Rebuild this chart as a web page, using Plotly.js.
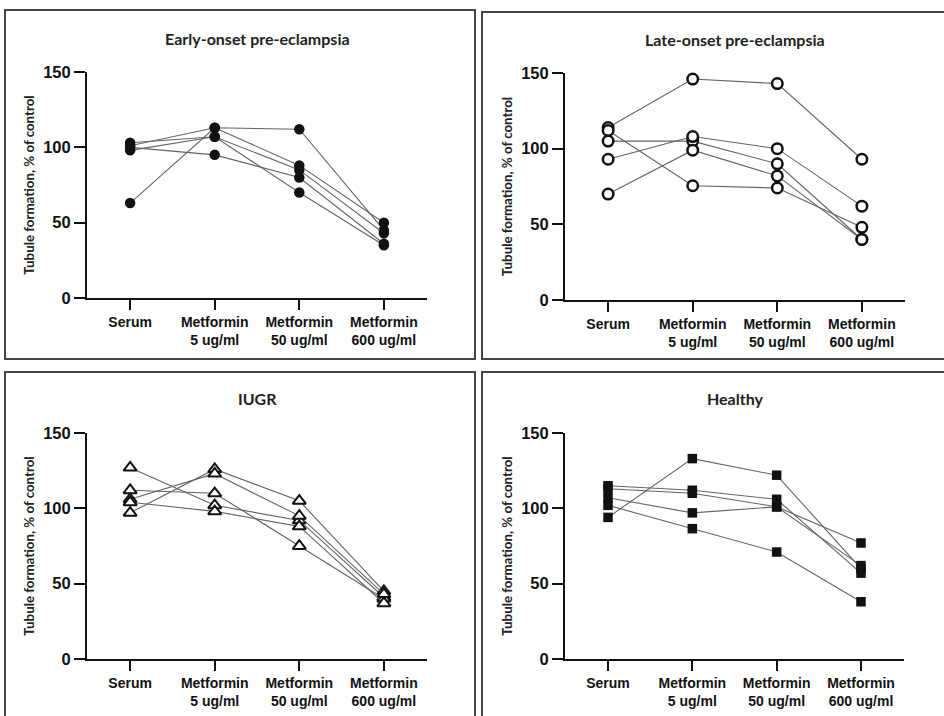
<!DOCTYPE html>
<html>
<head>
<meta charset="utf-8">
<script src="https://cdn.plot.ly/plotly-3.0.1.min.js"></script>
<style>html,body{margin:0;padding:0;background:#fff;}#chart{width:944px;height:716px;}</style>
</head>
<body>
<div id="chart"></div>
<script>
// ---- data ----
var categories = ["Serum", "Metformin<br>5 ug/ml", "Metformin<br>50 ug/ml", "Metformin<br>600 ug/ml"];
var panelTitles = ["Early-onset pre-eclampsia", "Late-onset pre-eclampsia", "IUGR", "Healthy"];
var yAxisTitle = "Tubule formation, % of control";
var yTickVals = [0, 50, 100, 150];

var earlyOnset = [
  [63, 113, 112, 45],
  [101, 113, 88, 50],
  [103, 107, 85, 43],
  [98, 107, 70, 35],
  [100, 95, 80, 36]
];
var lateOnset = [
  [114, 146, 143, 93],
  [112, 75.5, 74, 48],
  [105, 105, 90, 40],
  [93, 108, 100, 62],
  [70, 99, 82, 40]
];
var iugr = [
  [127, 102, 92, 41],
  [97, 126, 105, 45],
  [112, 110, 75, 40],
  [106, 123, 95, 43],
  [104, 98, 88, 37]
];
var healthy = [
  [94, 133, 122, 60],
  [115, 112, 106, 57],
  [113, 110, 101, 62],
  [107, 97, 101, 77],
  [102, 86.5, 71, 38]
];

// ---- styles ----
var groups = [earlyOnset, lateOnset, iugr, healthy];
var markerStyles = [
  {symbol: "circle", size: 10.5, color: "#111", line: {width: 0}},
  {symbol: "circle", size: 10.5, color: "#fff", line: {color: "#111", width: 2.5}},
  {symbol: "triangle-up", size: 11.5, color: "#fff", line: {color: "#111", width: 2}},
  {symbol: "square", size: 9.5, color: "#111", line: {width: 0}}
];
var W = 944, H = 716;
// axis pixel boxes [left, right, top, bottom]
var boxes = [
  [87, 427, 72, 298],
  [565, 905, 73, 300],
  [87, 427, 433, 659],
  [565, 904, 433, 659]
];
var titleY = [38, 39, 399, 399];

var traces = [];
var layout = {
  width: W, height: H,
  margin: {l: 0, r: 0, t: 0, b: 0},
  paper_bgcolor: "#fff", plot_bgcolor: "rgba(0,0,0,0)",
  showlegend: false,
  annotations: [],
  shapes: []
};

groups.forEach(function (g, i) {
  var n = i === 0 ? "" : String(i + 1);
  g.forEach(function (subj) {
    traces.push({
      type: "scatter", mode: "lines+markers",
      x: categories, y: subj,
      xaxis: "x" + n, yaxis: "y" + n,
      line: {color: "#636363", width: 1.1},
      marker: markerStyles[i],
      cliponaxis: false,
      hoverinfo: "y"
    });
  });
  var b = boxes[i];
  layout["xaxis" + n] = {
    domain: [b[0] / W, b[1] / W],
    anchor: "y" + n,
    type: "category",
    range: [-0.51, 3.51],
    showgrid: false, zeroline: false,
    showline: true, linecolor: "#111", linewidth: 2,
    ticks: "outside", ticklen: 10, tickwidth: 2, tickcolor: "#111",
    tickfont: {family: "Liberation Sans, Arial, sans-serif", size: 14, color: "#111", weight: 700},
    fixedrange: true
  };
  layout["yaxis" + n] = {
    domain: [1 - b[3] / H, 1 - b[2] / H],
    anchor: "x" + n,
    range: [0, 150],
    tickvals: yTickVals,
    showgrid: false, zeroline: false,
    showline: true, linecolor: "#111", linewidth: 2,
    ticks: "outside", ticklen: 11, tickwidth: 2, tickcolor: "#111",
    tickfont: {family: "Liberation Sans, Arial, sans-serif", size: 16.5, color: "#111", weight: 700},
    title: {text: yAxisTitle, standoff: 6,
            font: {family: "Lato, sans-serif", size: 13.3, color: "#222", weight: 700}},
    fixedrange: true
  };
  layout.annotations.push({
    text: panelTitles[i], xref: "paper", yref: "paper",
    x: (b[0] + b[1]) / 2 / W, y: 1 - titleY[i] / H,
    xanchor: "center", yanchor: "middle", showarrow: false,
    font: {family: "Lato, sans-serif", size: 16, color: "#222", weight: 700}
  });
});

// panel frames
var frames = [
  [5, 475, 10, 359],
  [482, 948, 12, 359],
  [5, 475, 372, 722],
  [482, 948, 372, 722]
];
frames.forEach(function (f) {
  layout.shapes.push({
    type: "rect", xref: "paper", yref: "paper",
    x0: f[0] / W, x1: f[1] / W, y0: 1 - f[3] / H, y1: 1 - f[2] / H,
    line: {color: "#444", width: 2}, fillcolor: "rgba(0,0,0,0)", layer: "below"
  });
});

Plotly.newPlot("chart", traces, layout, {displayModeBar: false, staticPlot: true});
</script>
</body>
</html>
